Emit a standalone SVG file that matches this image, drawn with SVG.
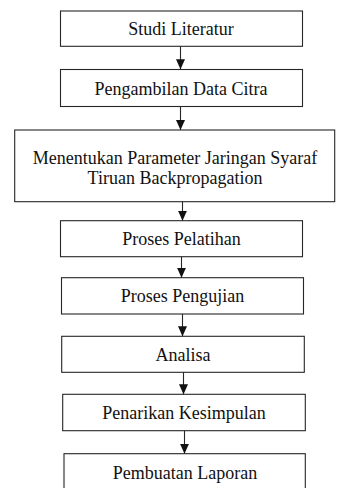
<svg xmlns="http://www.w3.org/2000/svg" width="337" height="488" viewBox="0 0 337 488">
<style>
.box{fill:#fff;stroke:#262626;stroke-width:1.1}
.lbl{font-family:"Liberation Serif","Times New Roman",serif;font-size:18px;fill:#111;text-anchor:middle}
.con{stroke:#262626;stroke-width:1.1;fill:none;marker-end:url(#ah)}
</style>
<defs>
<marker id="ah" markerUnits="userSpaceOnUse" markerWidth="10" markerHeight="9" viewBox="0 0 10 9" refX="10" refY="4.5" orient="auto">
<path d="M0,0 L10,4.5 L0,9 Z" fill="#111"/>
</marker>
</defs>
<rect width="337" height="488" fill="#fff"/>
<g id="n1"><rect class="box" x="60.5" y="11" width="242" height="35.3"/><text class="lbl" x="181" y="34.5">Studi Literatur</text></g>
<g id="n2"><rect class="box" x="60.5" y="69.5" width="242" height="37"/><text class="lbl" x="181" y="94.5">Pengambilan Data Citra</text></g>
<g id="n3"><rect class="box" x="14.7" y="130" width="320" height="71.7"/><text class="lbl" x="175" y="164.3">Menentukan Parameter Jaringan Syaraf</text><text class="lbl" x="175" y="184">Tiruan Backpropagation</text></g>
<g id="n4"><rect class="box" x="60.5" y="220.7" width="242" height="36"/><text class="lbl" x="181.5" y="245">Proses Pelatihan</text></g>
<g id="n5"><rect class="box" x="61.5" y="277.7" width="242" height="36.3"/><text class="lbl" x="182.5" y="302">Proses Pengujian</text></g>
<g id="n6"><rect class="box" x="61.7" y="336.3" width="242.6" height="36"/><text class="lbl" x="183" y="360.5">Analisa</text></g>
<g id="n7"><rect class="box" x="62.7" y="394.3" width="242.6" height="36.4"/><text class="lbl" x="184" y="418.5">Penarikan Kesimpulan</text></g>
<g id="n8"><rect class="box" x="64" y="453.7" width="241.3" height="38"/><text class="lbl" x="185" y="479.3">Pembuatan Laporan</text></g>
<g id="connectors">
<line class="con" x1="180.5" y1="46.3" x2="180.5" y2="69.3"/>
<line class="con" x1="180.5" y1="106.5" x2="180.5" y2="130"/>
<line class="con" x1="182.5" y1="201.7" x2="182.5" y2="220.7"/>
<line class="con" x1="181.5" y1="256.7" x2="181.5" y2="277.7"/>
<line class="con" x1="182.5" y1="314" x2="182.5" y2="336.3"/>
<line class="con" x1="183.5" y1="372.3" x2="183.5" y2="394.3"/>
<line class="con" x1="184.5" y1="430.7" x2="184.5" y2="453.7"/>
</g>
</svg>
